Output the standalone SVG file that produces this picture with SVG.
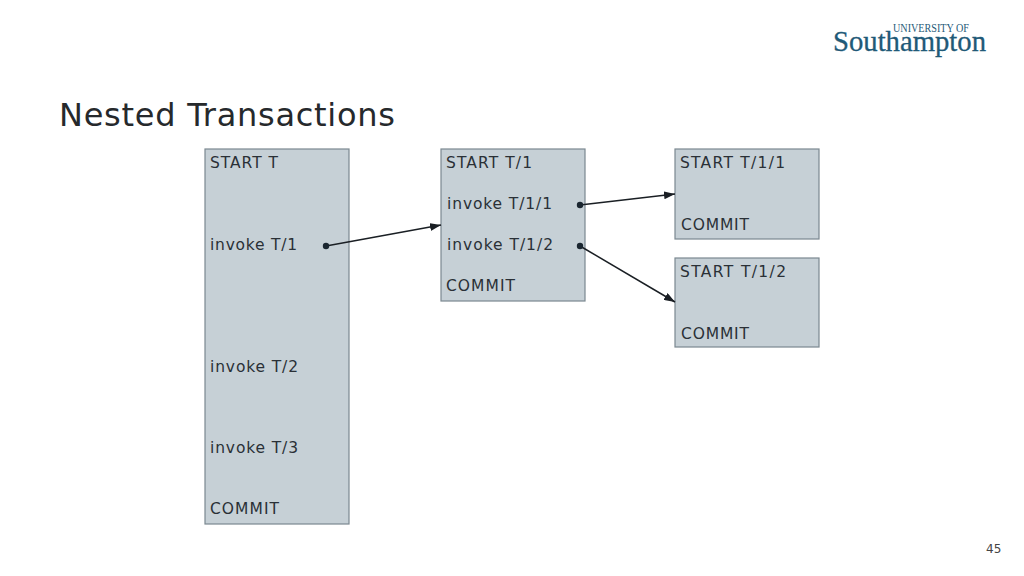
<svg xmlns="http://www.w3.org/2000/svg" width="1024" height="576" viewBox="0 0 1024 576">
<defs>
<marker id="arrow" markerUnits="userSpaceOnUse" markerWidth="12" markerHeight="8" refX="11" refY="4" orient="auto"><path d="M0 0 L11 4 L0 8 Z" fill="#1a1f24"/></marker>
<marker id="dot" markerUnits="userSpaceOnUse" markerWidth="8" markerHeight="8" refX="4" refY="4"><circle cx="4" cy="4" r="3.2" fill="#1a2630"/></marker>
</defs>
<style>
.box{fill:#c6d0d6;stroke:#7b8890;stroke-width:1.2}
.t{font-family:"DejaVu Sans",sans-serif;font-size:15.5px;fill:#2a3036}
.c{fill:none;stroke:#1a1f24;stroke-width:1.5;marker-start:url(#dot);marker-end:url(#arrow)}
.logo{font-family:"Liberation Serif",serif;fill:#1f5a78}
</style>
<rect width="1024" height="576" fill="#fff"/>
<g id="logo">
<text class="logo" x="893" y="31.5" font-size="11.5" textLength="76" lengthAdjust="spacingAndGlyphs">UNIVERSITY OF</text>
<text class="logo" x="833" y="50.5" font-size="28.5" stroke="#1f5a78" stroke-width=".3" textLength="153" lengthAdjust="spacingAndGlyphs">Southampton</text>
</g>
<text id="title" x="59" y="125.5" font-family="DejaVu Sans,sans-serif" font-size="32" fill="#26292c" textLength="336">Nested Transactions</text>
<g id="node-t">
<rect class="box" x="205" y="149" width="144" height="375"/>
<text class="t" x="210" y="168" textLength="68">START T</text>
<text class="t" x="210" y="250" textLength="87">invoke T/1</text>
<text class="t" x="210" y="372" textLength="88">invoke T/2</text>
<text class="t" x="210" y="453" textLength="88">invoke T/3</text>
<text class="t" x="210" y="514" textLength="69">COMMIT</text>
</g>
<g id="node-t1">
<rect class="box" x="441" y="149" width="144" height="152"/>
<text class="t" x="446" y="168" textLength="86">START T/1</text>
<text class="t" x="447" y="209" textLength="105">invoke T/1/1</text>
<text class="t" x="447" y="250" textLength="106">invoke T/1/2</text>
<text class="t" x="446" y="291" textLength="69">COMMIT</text>
</g>
<g id="node-t11">
<rect class="box" x="675" y="149" width="144" height="90"/>
<text class="t" x="680" y="168" textLength="105">START T/1/1</text>
<text class="t" x="681" y="230" textLength="68">COMMIT</text>
</g>
<g id="node-t12">
<rect class="box" x="675" y="258" width="144" height="89"/>
<text class="t" x="680" y="277" textLength="106">START T/1/2</text>
<text class="t" x="681" y="339" textLength="68">COMMIT</text>
</g>
<g id="connectors">
<path class="c" d="M326 246 L441 225"/>
<path class="c" d="M580 205 L675 194"/>
<path class="c" d="M580 246 L675 302"/>
</g>
<text id="page" x="986" y="553" font-family="DejaVu Sans,sans-serif" font-size="12" fill="#444">45</text>
</svg>
